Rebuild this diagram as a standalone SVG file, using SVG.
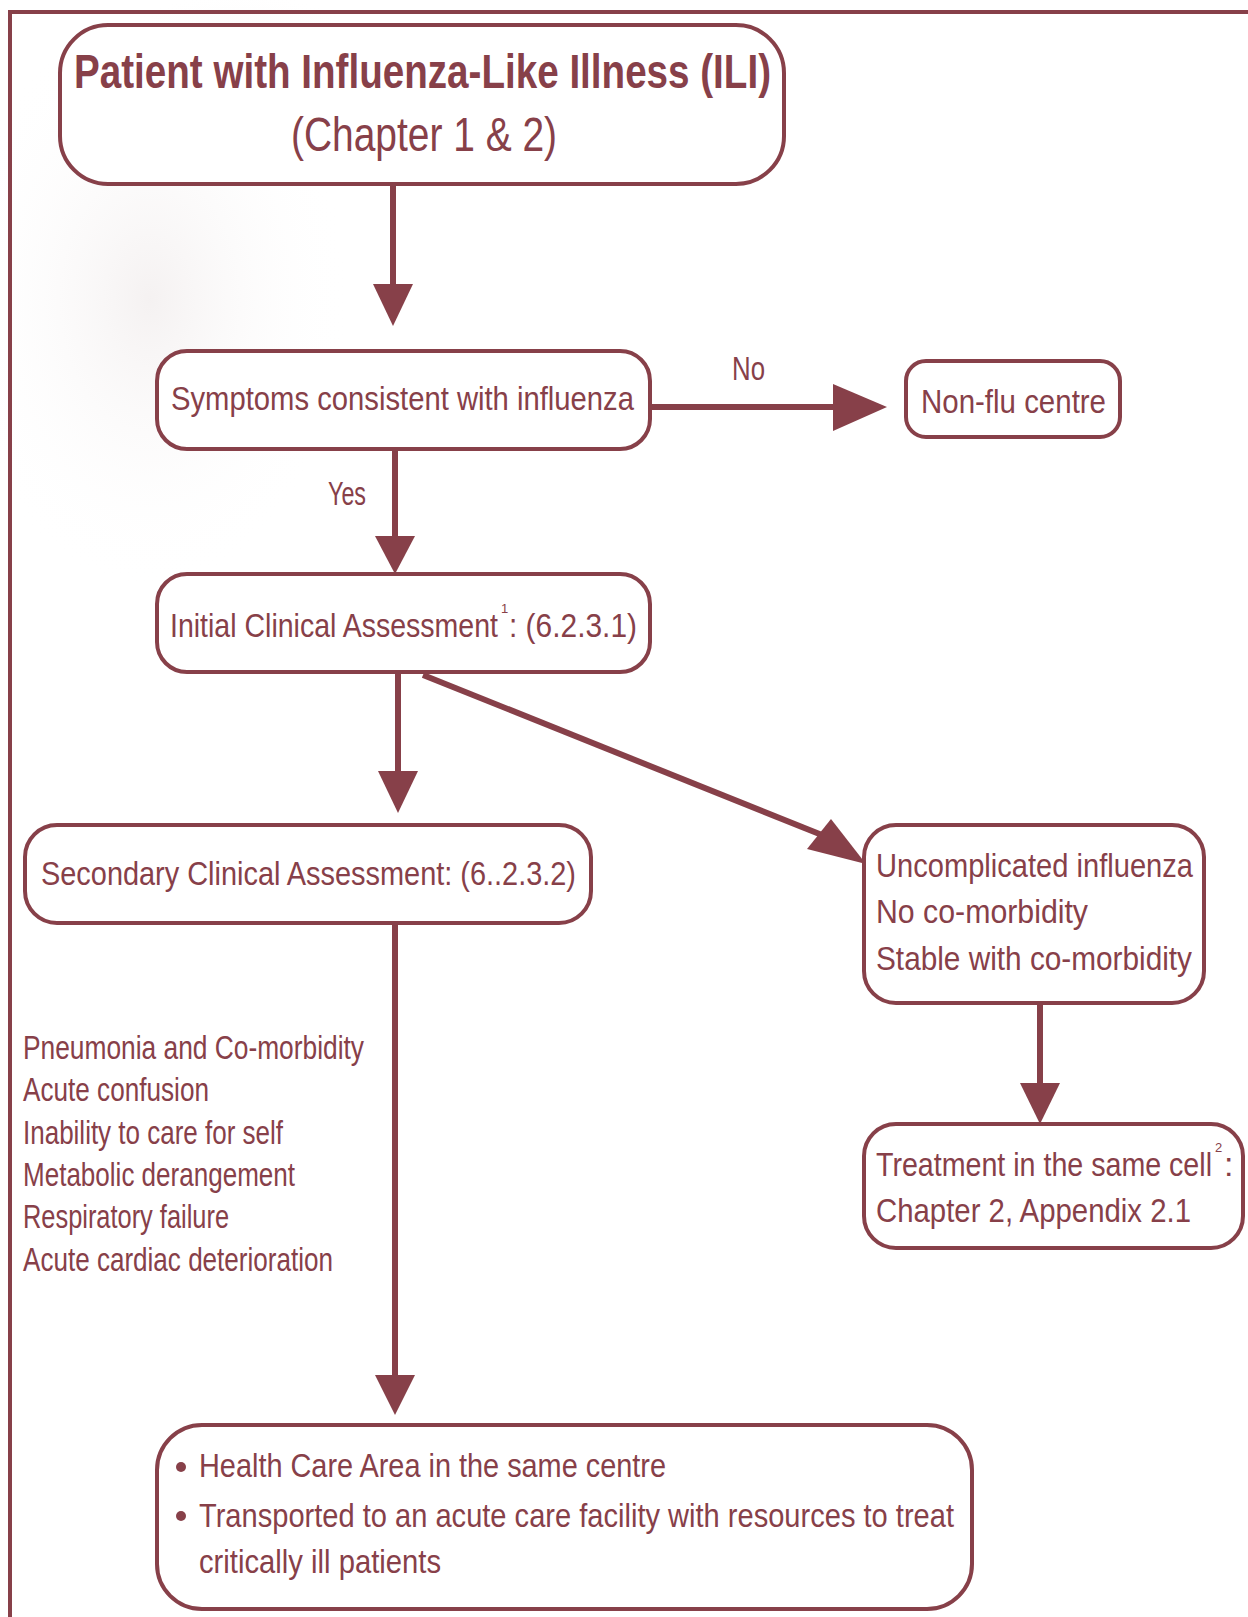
<svg xmlns="http://www.w3.org/2000/svg" width="1248" height="1617" viewBox="0 0 1248 1617">
<style>
.box{fill:#ffffff;stroke:#874049;stroke-width:4}
.t{font-family:"Liberation Sans",Arial,sans-serif;font-size:34px;fill:#874049}
.title{font-family:"Liberation Sans",Arial,sans-serif;font-size:48px;fill:#874049}
.sup{font-family:"Liberation Sans",Arial,sans-serif;font-size:13px;fill:#874049}
.ln{stroke:#874049;stroke-width:6;fill:none}
.hd{fill:#874049}
</style>
<defs>
<radialGradient id="wm" cx="0.5" cy="0.5" r="0.5">
<stop offset="0" stop-color="#f2eeee" stop-opacity="0.8"/>
<stop offset="1" stop-color="#ffffff" stop-opacity="0"/>
</radialGradient>
</defs>
<rect x="0" y="0" width="1248" height="1617" fill="#ffffff"/>
<g id="watermark">
<ellipse cx="150" cy="300" rx="200" ry="290" fill="url(#wm)"/>
<ellipse cx="240" cy="60" rx="130" ry="70" fill="url(#wm)"/>
</g>
<g id="frame">
<path d="M10 1617 V12 H1248" fill="none" stroke="#874049" stroke-width="4"/>
</g>
<g id="connectors">
<line class="ln" x1="393" y1="186" x2="393" y2="288"/>
<polygon class="hd" points="373,284 413,284 393,326"/>
<line class="ln" x1="650" y1="407" x2="836" y2="407"/>
<polygon class="hd" points="833,384 833,431 887,407"/>
<line class="ln" x1="395" y1="449" x2="395" y2="540"/>
<polygon class="hd" points="375,536 415,536 395,574"/>
<line class="ln" x1="398" y1="672" x2="398" y2="775"/>
<polygon class="hd" points="378,771 418,771 398,813"/>
<line class="ln" x1="423" y1="675" x2="822" y2="835"/>
<polygon class="hd" points="831,819 807,849 866,864"/>
<line class="ln" x1="1040" y1="1003" x2="1040" y2="1087"/>
<polygon class="hd" points="1020,1083 1060,1083 1040,1124"/>
<line class="ln" x1="395" y1="923" x2="395" y2="1379"/>
<polygon class="hd" points="375,1375 415,1375 395,1415"/>
<text class="t" x="732" y="380" textLength="33" lengthAdjust="spacingAndGlyphs">No</text>
<text class="t" x="328" y="505" textLength="38" lengthAdjust="spacingAndGlyphs">Yes</text>
</g>
<g id="n_top">
<rect class="box" x="60" y="25" width="724" height="159" rx="48" ry="48"/>
<text class="title" x="74" y="88" font-weight="bold" textLength="697" lengthAdjust="spacingAndGlyphs">Patient with Influenza-Like Illness (ILI)</text>
<text class="title" x="291" y="151" textLength="266" lengthAdjust="spacingAndGlyphs">(Chapter 1 &amp; 2)</text>
</g>
<g id="n_symptoms">
<rect class="box" x="157" y="351" width="493" height="98" rx="30" ry="30"/>
<text class="t" x="171" y="410" textLength="463" lengthAdjust="spacingAndGlyphs">Symptoms consistent with influenza</text>
</g>
<g id="n_nonflu">
<rect class="box" x="906" y="361" width="214" height="76" rx="20" ry="20"/>
<text class="t" x="921" y="413" textLength="185" lengthAdjust="spacingAndGlyphs">Non-flu centre</text>
</g>
<g id="n_initial">
<rect class="box" x="157" y="574" width="493" height="98" rx="30" ry="30"/>
<text class="t" x="170" y="637" textLength="328" lengthAdjust="spacingAndGlyphs">Initial Clinical Assessment</text>
<text class="sup" x="501" y="613">1</text>
<text class="t" x="509" y="637" textLength="128" lengthAdjust="spacingAndGlyphs">: (6.2.3.1)</text>
</g>
<g id="n_secondary">
<rect class="box" x="25" y="825" width="566" height="98" rx="32" ry="32"/>
<text class="t" x="41" y="885" textLength="535" lengthAdjust="spacingAndGlyphs">Secondary Clinical Assessment: (6..2.3.2)</text>
</g>
<g id="n_uncomplicated">
<rect class="box" x="864" y="825" width="340" height="178" rx="32" ry="32"/>
<text class="t" x="876" y="877" textLength="317" lengthAdjust="spacingAndGlyphs">Uncomplicated influenza</text>
<text class="t" x="876" y="923" textLength="212" lengthAdjust="spacingAndGlyphs">No co-morbidity</text>
<text class="t" x="876" y="970" textLength="316" lengthAdjust="spacingAndGlyphs">Stable with co-morbidity</text>
</g>
<g id="n_treatment">
<rect class="box" x="864" y="1124" width="379" height="124" rx="32" ry="32"/>
<text class="t" x="876" y="1176" textLength="336" lengthAdjust="spacingAndGlyphs">Treatment in the same cell</text>
<text class="sup" x="1215" y="1152">2</text>
<text class="t" x="1224" y="1176">:</text>
<text class="t" x="876" y="1222" textLength="315" lengthAdjust="spacingAndGlyphs">Chapter 2, Appendix 2.1</text>
</g>
<g id="criteria">
<text class="t" x="23" y="1059" textLength="341" lengthAdjust="spacingAndGlyphs">Pneumonia and Co-morbidity</text>
<text class="t" x="23" y="1101" textLength="186" lengthAdjust="spacingAndGlyphs">Acute confusion</text>
<text class="t" x="23" y="1144" textLength="260" lengthAdjust="spacingAndGlyphs">Inability to care for self</text>
<text class="t" x="23" y="1186" textLength="272" lengthAdjust="spacingAndGlyphs">Metabolic derangement</text>
<text class="t" x="23" y="1228" textLength="206" lengthAdjust="spacingAndGlyphs">Respiratory failure</text>
<text class="t" x="23" y="1271" textLength="310" lengthAdjust="spacingAndGlyphs">Acute cardiac deterioration</text>
</g>
<g id="n_outcome">
<rect class="box" x="157" y="1425" width="815" height="184" rx="45" ry="45"/>
<circle cx="181" cy="1467" r="5" fill="#874049"/>
<text class="t" x="199" y="1477" textLength="467" lengthAdjust="spacingAndGlyphs">Health Care Area in the same centre</text>
<circle cx="181" cy="1516" r="5" fill="#874049"/>
<text class="t" x="199" y="1527" textLength="755" lengthAdjust="spacingAndGlyphs">Transported to an acute care facility with resources to treat</text>
<text class="t" x="199" y="1573" textLength="242" lengthAdjust="spacingAndGlyphs">critically ill patients</text>
</g>
</svg>
